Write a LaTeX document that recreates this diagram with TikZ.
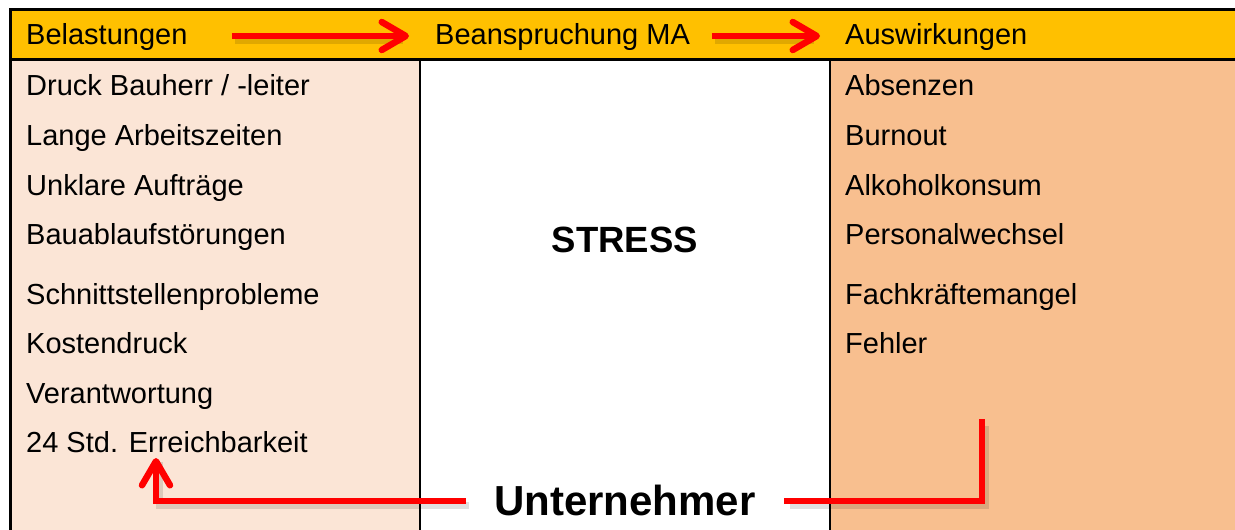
\documentclass[tikz,border=0pt]{standalone}
\usepackage{fontspec}
\setmainfont{Liberation Sans}
\usetikzlibrary{arrows.meta}
\definecolor{hdr}{HTML}{FFC000}
\definecolor{lcol}{HTML}{FBE5D6}
\definecolor{rcol}{HTML}{F8BF8F}
\definecolor{arr}{HTML}{FF0000}
\tikzset{
  txt/.style={anchor=base west, inner sep=0pt, font=\fontsize{29}{34}\selectfont},
  big/.style={anchor=base, inner sep=0pt, font=\fontsize{36.5}{40}\selectfont\bfseries},
  redline/.style={draw=arr, line width=6.5pt},
  shadowline/.style={draw=black, opacity=0.12, line width=7pt},
  barb/.style={-{Straight Barb[length=24pt,width=28pt,round]}},
}
\begin{document}
\begin{tikzpicture}[x=1pt,y=-1pt]
\useasboundingbox (0,0) rectangle (1235,530);
\begin{scope}
\clip (0,0) rectangle (1235,530);
% column fills
\fill[hdr] (10,9) rectangle (1240,59);
\fill[lcol] (10,59) rectangle (420,535);
\fill[white] (420,59) rectangle (830,535);
\fill[rcol] (830,59) rectangle (1240,535);
% frame lines
\draw[line width=3pt] (10,535) -- (10,9) -- (1240,9);
\draw[line width=3pt] (10,59) -- (1240,59);
\draw[line width=2.4pt] (420,59) -- (420,535);
\draw[line width=2.4pt] (830,59) -- (830,535);
\end{scope}
% header
\node[txt] (h1) at (26,45) {Belastungen};
\node[txt] (h2) at (435,45) {Beanspruchung MA};
\node[txt] (h3) at (845,45) {Auswirkungen};
% left list
\node[txt] (l1) at (26,95) {Druck Bauherr / -leiter};
\node[txt] (l2) at (26,145) {Lange Arbeitszeiten};
\node[txt] (l3) at (26,195) {Unklare Aufträge};
\node[txt] (l4) at (26,244) {Bauablaufstörungen};
\node[txt] (l5) at (26,304) {Schnittstellenprobleme};
\node[txt] (l6) at (26,353) {Kostendruck};
\node[txt] (l7) at (26,403) {Verantwortung};
\node[txt] (l8) at (26,452) {24 Std. Erreichbarkeit};
% right list
\node[txt] (r1) at (845,95) {Absenzen};
\node[txt] (r2) at (845,145) {Burnout};
\node[txt] (r3) at (845,195) {Alkoholkonsum};
\node[txt] (r4) at (845,244) {Personalwechsel};
\node[txt] (r5) at (845,304) {Fachkräftemangel};
\node[txt] (r6) at (845,353) {Fehler};
% centre words
\node[big] (stress) at (625,252) {STRESS};
\node[big, font=\fontsize{42}{46}\selectfont\bfseries] (unt) at (625,515) {Unternehmer};
% arrow coordinates
\coordinate (a1s) at (232,36);
\coordinate (a1e) at (409,36);
\coordinate (a2s) at (712,36);
\coordinate (a2e) at (820,36);
\coordinate (bls) at (466,501);
\coordinate (blc) at (156,501);
\coordinate (ble) at (156,458);
\coordinate (brs) at (787,501);
\coordinate (brc) at (982,501);
\coordinate (bre) at (982,422);
% shadows
\draw[shadowline] ([shift={(3,4)}]a1s) -- ([shift={(-6,4)}]a1e);
\draw[shadowline] ([shift={(3,4)}]a2s) -- ([shift={(-6,4)}]a2e);
\draw[shadowline] ([shift={(3,4)}]bls) -- ([shift={(3,4)}]blc) -- ([shift={(3,4)}]ble);
\draw[shadowline] ([shift={(3,4)}]brs) -- ([shift={(3,4)}]brc) -- ([shift={(3,4)}]bre);
% red arrows
\draw[redline, barb] (a1s) -- (a1e);
\draw[redline, barb] (a2s) -- (a2e);
\draw[redline, barb] (bls) -- (blc) -- (ble);
\draw[redline, line cap=rect] (brs) -- (brc) -- (bre);
\end{tikzpicture}
\end{document}
